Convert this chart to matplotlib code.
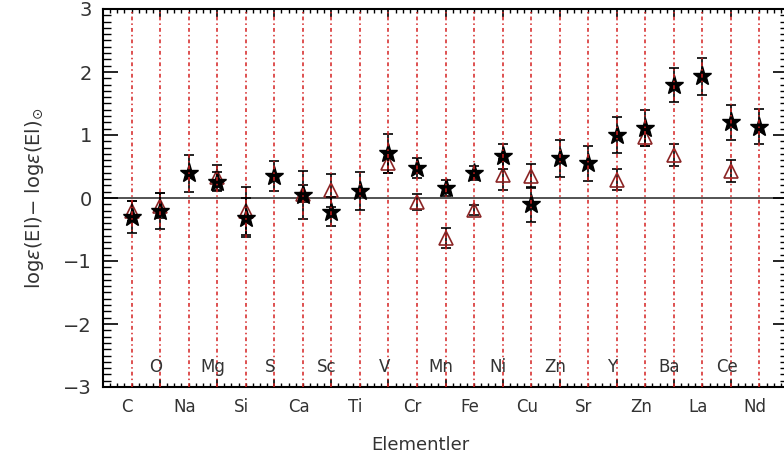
import numpy as np
import matplotlib
matplotlib.use("Agg")
import matplotlib.pyplot as plt
from matplotlib.ticker import MultipleLocator

elements = ["C", "O", "Na", "Mg", "Si", "S", "Ca", "Sc", "Ti", "V", "Cr", "Mn",
            "Fe", "Ni", "Cu", "Zn", "Sr", "Y", "Zn", "Ba", "La", "Ce", "Nd"]

# star sample: abundance and error
star_val = [-0.30, -0.21, 0.39, 0.26, -0.31, 0.35, 0.05, -0.22, 0.11, 0.71, 0.47, 0.16,
            0.40, 0.66, -0.10, 0.63, 0.55, 1.00, 1.11, 1.80, 1.93, 1.20, 1.13]
star_err = [0.26, 0.29, 0.29, 0.15, 0.31, 0.24, 0.38, 0.23, 0.30, 0.31, 0.16, 0.13,
            0.11, 0.20, 0.28, 0.29, 0.28, 0.29, 0.28, 0.27, 0.29, 0.28, 0.28]

# comparison sample (NaN = no measurement)
tri_val = [-0.21, -0.12, np.nan, 0.33, -0.21, np.nan, 0.07, 0.12, np.nan, 0.55, -0.06, -0.64,
           -0.19, 0.37, 0.35, np.nan, np.nan, 0.29, 0.97, 0.68, np.nan, 0.43, np.nan]
tri_err = [0.16, 0.20, np.nan, 0.20, 0.38, np.nan, 0.14, 0.26, np.nan, 0.15, 0.13, 0.16,
           0.08, 0.25, 0.19, np.nan, np.nan, 0.17, 0.15, 0.17, np.nan, 0.17, np.nan]

x = np.arange(1, len(elements) + 1)
txt = "#333333"

fig = plt.figure(figsize=(7.84, 4.61), dpi=100)
ax = fig.add_axes([103 / 784, 74 / 461, 685 / 784, 378 / 461])

ax.set_xlim(0, 24)
ax.set_ylim(-3, 3)

ax.axhline(0, color="#444444", lw=1.3, zorder=1)

ax.errorbar(x, tri_val, yerr=tri_err, fmt="^", ms=10, mfc="none", mec="#8b2525",
            mew=1.2, ecolor="black", elinewidth=1.2, capsize=3.5, capthick=1.2, zorder=3)
ax.errorbar(x, star_val, yerr=star_err, fmt="*", ms=14, mfc="black", mec="black",
            ecolor="black", elinewidth=1.2, capsize=3.5, capthick=1.2, zorder=4)

for xi in x:
    ax.axvline(xi, color="#d42020", lw=1.1, dashes=(2.5, 2, 1, 2), zorder=5)

# element names, alternating between two rows
for i, (xi, name) in enumerate(zip(x, elements)):
    if i % 2 == 0:
        ax.text(xi - 0.15, -3.31, name, ha="center", va="center", fontsize=12,
                color=txt, clip_on=False)
    else:
        ax.text(xi - 0.15, -2.68, name, ha="center", va="center", fontsize=12,
                color=txt, zorder=6)

ax.xaxis.set_major_locator(MultipleLocator(2))
ax.xaxis.set_minor_locator(MultipleLocator(0.25))
ax.yaxis.set_major_locator(MultipleLocator(1))
ax.yaxis.set_minor_locator(MultipleLocator(0.1))
ax.tick_params(axis="both", which="both", direction="in", top=True, right=True, colors="black")
ax.tick_params(axis="x", which="major", length=6, width=1.2, labelbottom=False)
ax.tick_params(axis="x", which="minor", length=3, width=1)
ax.tick_params(axis="y", which="major", length=11, width=1.2, pad=8, labelsize=14,
               labelcolor=txt)
ax.tick_params(axis="y", which="minor", length=5.5, width=1)
ax.set_yticks(range(-3, 4))
ax.set_yticklabels(["\u22123", "\u22122", "\u22121", "0", "1", "2", "3"])

for s in ax.spines.values():
    s.set_linewidth(1.5)

ax.set_ylabel(r"log$\epsilon$(El)$-$ log$\epsilon$(El)$_{\odot}$", fontsize=14,
              color=txt, labelpad=12)
fig.text(420 / 784, 1 - 445 / 461, "Elementler", ha="center", va="center",
         fontsize=13, color=txt)

fig.savefig("out.png", dpi=100)
